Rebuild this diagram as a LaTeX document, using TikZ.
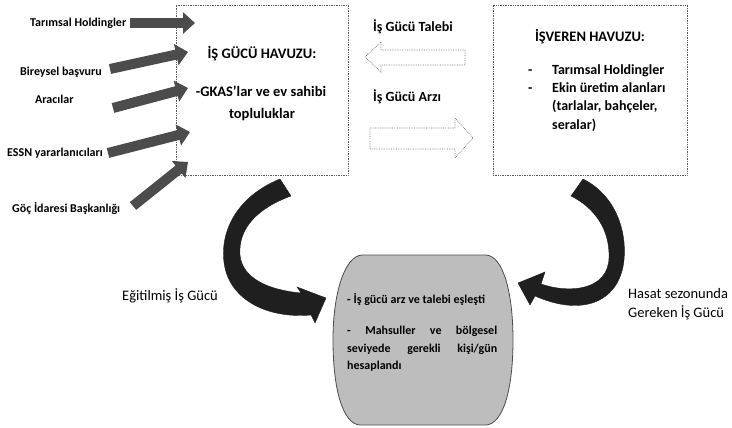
\documentclass[tikz,border=0pt]{standalone}
\usepackage{fontspec}
\setmainfont{Carlito}
\usetikzlibrary{arrows.meta,calc}
\begin{document}
\begin{tikzpicture}[x=1pt,y=-1pt,
  pool/.style={draw=black!65, densely dotted, line width=0.7pt, fill=white},
  lab/.style={font=\fontsize{12}{14}\selectfont\bfseries, inner sep=0pt, anchor=base west},
  boxtxt/.style={font=\fontsize{14.5}{17}\selectfont\bfseries, inner sep=0pt, anchor=base},
  boxitem/.style={font=\fontsize{14}{17}\selectfont\bfseries, inner sep=0pt, anchor=base west},
  flowlab/.style={font=\fontsize{14.5}{17}\selectfont, inner sep=0pt, anchor=base west},
  mtext/.style={font=\fontsize{12}{14}\selectfont\bfseries, inner sep=0pt, anchor=base west},
  stub/.style={line width=10pt, draw=black!70, -{Triangle[length=12pt,width=21pt]}},
  hollow/.style={draw=black!55, densely dotted, line width=0.7pt, fill=white},
  bentarrow/.style={fill=black!88, draw=black!88, line width=0.4pt},
  barrel/.style={fill=black!26, draw=black!70, line width=0.8pt}
]
\useasboundingbox (0,0) rectangle (732,428);

% ---- pools ----
\node[pool, minimum width=172pt, minimum height=170pt, inner sep=0pt] (lbox) at (262,90) {};
\node[pool, minimum width=194pt, minimum height=170pt, inner sep=0pt] (rbox) at (590,90) {};

\node[boxtxt] (lt1) at (262,59) {İŞ GÜCÜ HAVUZU:};
\node[boxtxt] (lt2) at (261,97) {-GKAS'lar ve ev sahibi};
\node[boxtxt] (lt3) at (262,118) {topluluklar};

\node[boxtxt] (rt1) at (590,42) {İŞVEREN HAVUZU:};
\node[boxitem] (rd1) at (528,75) {-};
\node[boxitem] (rd2) at (528,93) {-};
\node[boxitem] (ri1) at (552,75) {Tarımsal Holdingler};
\node[boxitem] (ri2) at (552,93) {Ekin üretim alanları};
\node[boxitem] (ri3) at (552,111) {(tarlalar, bahçeler,};
\node[boxitem] (ri4) at (552,130) {seralar)};

% ---- left labels and stub arrows ----
\node[lab] (a1) at (30,27) {Tarımsal Holdingler};
\node[lab] (a2) at (20,76) {Bireysel başvuru};
\node[lab] (a3) at (35,103) {Aracılar};
\node[lab] (a4) at (7,157) {ESSN yararlanıcıları};
\node[lab] (a5) at (12,212) {Göç İdaresi Başkanlığı};

\coordinate (s1) at (130,23);  \coordinate (e1) at (195,23);
\coordinate (s2) at (110,69);  \coordinate (e2) at (188,52);
\coordinate (s3) at (113,108); \coordinate (e3) at (188,88);
\coordinate (s4) at (108,153); \coordinate (e4) at (190,132);
\coordinate (s5) at (133,206); \coordinate (e5) at (188,162);
\foreach \i in {1,...,5} {\draw[stub] (s\i) -- (e\i);}

% ---- demand / supply hollow arrows ----
\node[flowlab, font=\fontsize{14}{17}\selectfont\bfseries] (dem) at (373,32) {İş Gücü Talebi};
\node[flowlab, font=\fontsize{14}{17}\selectfont\bfseries] (sup) at (373,102) {İş Gücü Arzı};
\path[hollow] (365,57) -- (381,42) -- (381,50) -- (465,50) -- (465,65) -- (381,65) -- (381,72) -- cycle;
\path[hollow] (370,128) -- (455,128) -- (455,118) -- (473,138) -- (455,158) -- (455,149) -- (370,149) -- cycle;

% ---- central barrel ----
\path[barrel] (362,255) -- (486,255)
  .. controls (503,256) and (513,292) .. (513,340)
  .. controls (513,390) and (503,424) .. (486,425)
  -- (360,425)
  .. controls (343,424) and (333,390) .. (333,340)
  .. controls (333,292) and (345,256) .. cycle;
\node[mtext] (m1) at (347,303) {- İş gücü arz ve talebi eşleşti};
\node[mtext] (m2) at (347,334) {\hbox to 150pt{-\hfill Mahsuller\hfill ve\hfill bölgesel}};
\node[mtext] (m3) at (347,352) {\hbox to 150pt{seviyede\hfill gerekli\hfill kişi/gün}};
\node[mtext] (m4) at (347,369) {hesaplandı};

% ---- curved arrows ----
\path[bentarrow] (280,179) .. controls (238,196) and (220,230) .. (224,262)
  .. controls (228,298) and (265,319) .. (311,315)
  -- (315,323) -- (326,298) -- (297,287) -- (301,293)
  .. controls (268,290) and (242,278) .. (240,255)
  .. controls (238,228) and (258,208) .. (291,196) -- cycle;
\path[bentarrow] (583,179) .. controls (615,195) and (627,230) .. (624,260)
  .. controls (620,300) and (585,318) .. (535,296)
  -- (530,305) -- (518,283) -- (545,272) -- (541,284)
  .. controls (570,294) and (608,290) .. (609,258)
  .. controls (610,230) and (595,208) .. (571,196) -- cycle;

\node[flowlab] (tr) at (122,300) {Eğitilmiş İş Gücü};
\node[flowlab] (hs1) at (628,298) {Hasat sezonunda};
\node[flowlab] (hs2) at (628,317) {Gereken İş Gücü};
\end{tikzpicture}
\end{document}
